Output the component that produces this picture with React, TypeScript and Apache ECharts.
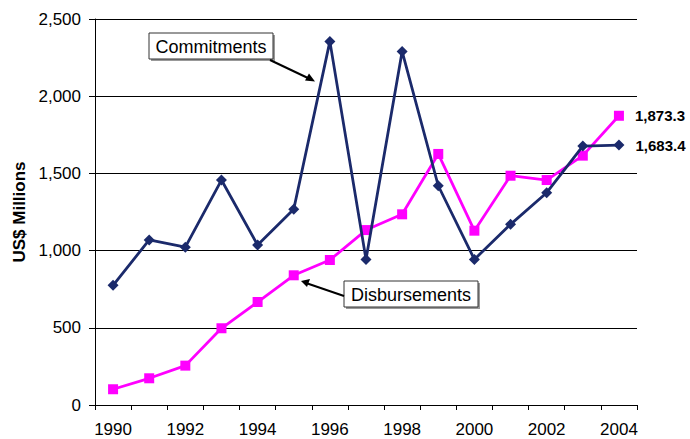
import React, { useEffect, useRef } from "react";
import * as echarts from "echarts";

const years = ["1990","1991","1992","1993","1994","1995","1996","1997","1998","1999","2000","2001","2002","2003","2004"];
const commitments = [775, 1069, 1022, 1457, 1036, 1268, 2355, 943, 2290, 1420, 943, 1170, 1375, 1677, 1683.4];
const disbursements = [102, 173, 255, 497, 667, 840, 939, 1133, 1235, 1626, 1129, 1485, 1457, 1615, 1873.3];
const yTicks = { min: 0, max: 2500, interval: 500 };

const FONT = "Liberation Sans, Arial, sans-serif";

function withEndLabel(arr: number[]) {
  return arr.map((v, i) =>
    i === arr.length - 1
      ? {
          value: v,
          label: {
            show: true,
            position: "right",
            distance: 11,
            formatter: (p: any) =>
              Number(p.value).toLocaleString("en-US", { minimumFractionDigits: 1, maximumFractionDigits: 1 }),
            fontFamily: FONT,
            fontWeight: "bold",
            fontSize: 15,
            color: "#000",
          },
        }
      : v
  );
}

export default function App() {
  const ref = useRef<HTMLDivElement>(null);
  useEffect(() => {
    if (!ref.current) return;
    const chart = echarts.init(ref.current, null, { renderer: "svg" });
    chart.setOption({
      animation: false,
      backgroundColor: "#fff",
      grid: { left: 95, right: 53, top: 19, bottom: 34 },
      xAxis: {
        type: "category",
        data: years,
        boundaryGap: true,
        axisLine: { lineStyle: { color: "#000", width: 1 } },
        axisTick: { show: true, interval: 0, length: 5, lineStyle: { color: "#000" } },
        axisLabel: { interval: 1, color: "#000", fontFamily: FONT, fontSize: 17, margin: 16 },
        splitLine: { show: false },
      },
      yAxis: {
        type: "value",
        min: yTicks.min,
        max: yTicks.max,
        interval: yTicks.interval,
        name: "US$ Millions",
        nameLocation: "middle",
        nameGap: 67,
        nameRotate: 90,
        nameTextStyle: { fontFamily: FONT, fontWeight: "bold", fontSize: 17, color: "#000" },
        axisLine: { show: true, lineStyle: { color: "#000", width: 1 } },
        axisTick: { show: true, length: 6, lineStyle: { color: "#000" } },
        axisLabel: {
          color: "#000",
          fontFamily: FONT,
          fontSize: 17,
          margin: 14,
          formatter: (v: number) => v.toLocaleString("en-US"),
        },
        splitLine: { show: true, lineStyle: { color: "#000", width: 1 } },
      },
      series: [
        {
          name: "Commitments",
          type: "line",
          data: withEndLabel(commitments),
          symbol: "diamond",
          symbolSize: 11,
          lineStyle: { color: "#1B2A6B", width: 2.8 },
          itemStyle: { color: "#1B2A6B" },
          z: 3,
        },
        {
          name: "Disbursements",
          type: "line",
          data: withEndLabel(disbursements),
          symbol: "rect",
          symbolSize: 10,
          lineStyle: { color: "#FF00FF", width: 2.8 },
          itemStyle: { color: "#FF00FF" },
          z: 2,
        },
      ],
      graphic: [
        // Commitments callout
        { type: "rect", shape: { x: 151, y: 35, width: 124, height: 26 }, style: { fill: "#999" }, z: 10 },
        { type: "rect", shape: { x: 149, y: 33, width: 124, height: 26 }, style: { fill: "#fff", stroke: "#333", lineWidth: 1 }, z: 11 },
        { type: "text", x: 211, y: 46.5, style: { text: "Commitments", fontFamily: FONT, fontSize: 18, fill: "#000", align: "center", verticalAlign: "middle" }, z: 12 },
        { type: "line", shape: { x1: 270, y1: 60, x2: 310, y2: 79 }, style: { stroke: "#000", lineWidth: 2 }, z: 12 },
        { type: "polygon", shape: { points: [[315, 81.5], [305, 80.5], [309, 73.5]] }, style: { fill: "#000" }, z: 12 },
        // Disbursements callout
        { type: "rect", shape: { x: 346, y: 283, width: 134, height: 26 }, style: { fill: "#999" }, z: 10 },
        { type: "rect", shape: { x: 344, y: 281, width: 134, height: 26 }, style: { fill: "#fff", stroke: "#333", lineWidth: 1 }, z: 11 },
        { type: "text", x: 411, y: 294.5, style: { text: "Disbursements", fontFamily: FONT, fontSize: 18, fill: "#000", align: "center", verticalAlign: "middle" }, z: 12 },
        { type: "line", shape: { x1: 344, y1: 296, x2: 306, y2: 283 }, style: { stroke: "#000", lineWidth: 2 }, z: 12 },
        { type: "polygon", shape: { points: [[301, 281], [310, 279], [307, 287]] }, style: { fill: "#000" }, z: 12 },
      ],
    });
    return () => chart.dispose();
  }, []);
  return <div ref={ref} style={{ width: 690, height: 439, position: "absolute", left: 0, top: 0 }} />;
}
